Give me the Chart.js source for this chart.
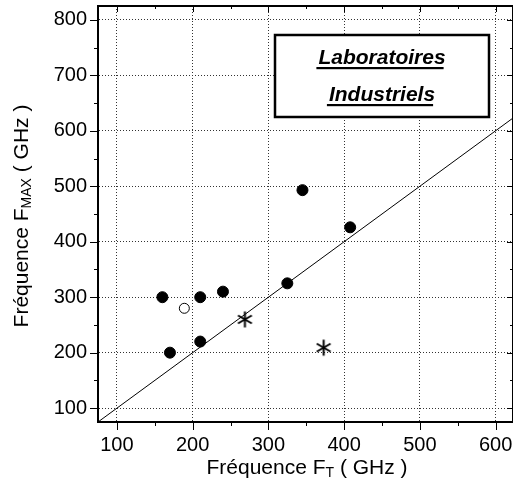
<!DOCTYPE html>
<html><head><meta charset="utf-8">
<script src="https://cdn.jsdelivr.net/npm/chart.js@4/dist/chart.umd.min.js"></script>
<style>html,body{margin:0;padding:0;background:#fff}canvas{display:block}</style>
</head><body>
<canvas id="c" width="513" height="483"></canvas>
<script>
// ---- data ----
const xTicks = [100, 200, 300, 400, 500, 600];
const yTicks = [100, 200, 300, 400, 500, 600, 700, 800];
const xMinor = [150, 250, 350, 450, 550];
const yMinor = [150, 250, 350, 450, 550, 650, 750];
const labFT   = [160, 170, 210, 210, 240, 325, 345, 408];
const labFMAX = [300, 200, 300, 220, 310, 325, 493, 426];
const openFT   = [189];
const openFMAX = [280];
const starFT   = [269, 373];
const starFMAX = [260, 209];
const refFT   = [75, 623];
const refFMAX = [75, 623];
const boxLines = ['Laboratoires', 'Industriels'];
const xTitle = ['Fréquence F', 'T', ' ( GHz )'];
const yTitle = ['Fréquence F', 'MAX', ' ( GHz )'];

const pts = (xs, ys) => xs.map((x, i) => ({x: x, y: ys[i]}));
const FONT = 'Arial, "Liberation Sans", sans-serif';

// asterisk marker
const star = document.createElement('canvas');
star.width = 19; star.height = 19;
(function(){
  const g = star.getContext('2d');
  g.strokeStyle = '#000'; g.lineWidth = 2;
  const c = 9.5, r = 8;
  [90, 30, -30].forEach(a => {
    const t = a * Math.PI / 180;
    g.beginPath();
    g.moveTo(c - r * Math.cos(t), c - r * Math.sin(t));
    g.lineTo(c + r * Math.cos(t), c + r * Math.sin(t));
    g.stroke();
  });
})();

function drawParts(ctx, parts, cx, cy, rot) {
  const big = '21px ' + FONT, small = '14px ' + FONT;
  ctx.save();
  let w = 0;
  const ws = parts.map((p, i) => { ctx.font = (i === 1 ? small : big); const m = ctx.measureText(p).width; w += m; return m; });
  ctx.translate(cx, cy);
  if (rot) ctx.rotate(-Math.PI / 2);
  ctx.fillStyle = '#000';
  ctx.textBaseline = 'alphabetic';
  ctx.textAlign = 'left';
  let x = -w / 2;
  parts.forEach((p, i) => {
    ctx.font = (i === 1 ? small : big);
    ctx.fillText(p, x, i === 1 ? 3 : 0);
    x += ws[i];
  });
  ctx.restore();
}

const noPad = s => { s.paddingTop = 0; s.paddingBottom = 0; s.paddingLeft = 0; s.paddingRight = 0; };

const decor = {
  id: 'decor',
  afterDraw(chart) {
    const ctx = chart.ctx, a = chart.chartArea;
    const xs = chart.scales.x, ys = chart.scales.y;
    ctx.save();
    ctx.strokeStyle = '#000';
    // frame top & right
    ctx.lineWidth = 2;
    ctx.beginPath(); ctx.moveTo(a.left - 1, a.top); ctx.lineTo(a.right, a.top); ctx.stroke();
    ctx.beginPath(); ctx.moveTo(a.right, a.top); ctx.lineTo(a.right, a.bottom); ctx.stroke();
    ctx.lineWidth = 1;
    const tick = (x1, y1, x2, y2) => { ctx.beginPath(); ctx.moveTo(x1, y1); ctx.lineTo(x2, y2); ctx.stroke(); };
    xTicks.forEach(v => { const p = Math.round(xs.getPixelForValue(v)) + 0.5;
      tick(p, a.bottom, p, a.bottom + 8); tick(p, a.top, p, a.top + 6); });
    xMinor.forEach(v => { const p = Math.round(xs.getPixelForValue(v)) + 0.5;
      tick(p, a.bottom, p, a.bottom + 4); tick(p, a.top, p, a.top + 3); });
    yTicks.forEach(v => { const p = Math.round(ys.getPixelForValue(v)) + 0.5;
      tick(a.left, p, a.left - 8, p); tick(a.right, p, a.right - 6, p); });
    yMinor.forEach(v => { const p = Math.round(ys.getPixelForValue(v)) + 0.5;
      tick(a.left, p, a.left - 4, p); tick(a.right, p, a.right - 3, p); });
    // text box
    ctx.fillStyle = '#fff';
    ctx.fillRect(275, 35, 214, 82);
    ctx.lineWidth = 2.5;
    ctx.strokeRect(275, 35, 214, 82);
    ctx.fillStyle = '#000';
    ctx.font = 'italic bold 21px ' + FONT;
    ctx.textAlign = 'center';
    ctx.textBaseline = 'alphabetic';
    const cx = 382;
    [64, 101].forEach((by, i) => {
      ctx.fillText(boxLines[i], cx, by);
      const w = ctx.measureText(boxLines[i]).width;
      ctx.fillRect(cx - w / 2 - 2, by + 3, w, 2.2);
    });
    ctx.restore();
    // axis titles
    drawParts(ctx, xTitle, 307, 474, false);
    drawParts(ctx, yTitle, 28, 216, true);
  }
};

new Chart(document.getElementById('c'), {
  type: 'scatter',
  data: {
    datasets: [
      { data: pts(labFT, labFMAX), pointRadius: 5.5, pointHoverRadius: 5.5, backgroundColor: '#000', borderColor: '#000', borderWidth: 1 },
      { data: pts(openFT, openFMAX), pointRadius: 5, backgroundColor: '#fff', borderColor: '#000', borderWidth: 1 },
      { data: pts(starFT, starFMAX), pointStyle: star, pointRadius: 9 },
      { type: 'line', data: pts(refFT, refFMAX), showLine: true, pointRadius: 0, borderColor: '#000', borderWidth: 1, fill: false, tension: 0 }
    ]
  },
  options: {
    responsive: false,
    animation: false,
    devicePixelRatio: 1,
    layout: { autoPadding: false, padding: { top: 6, right: 0, left: 0, bottom: 0 } },
    plugins: { legend: { display: false }, tooltip: { enabled: false } },
    scales: {
      x: {
        type: 'linear', position: 'bottom', min: 75, max: 623,
        afterBuildTicks: s => { s.ticks = xTicks.map(v => ({ value: v })); },
        afterFit: s => { s.height = 61; noPad(s); },
        grid: { color: '#333', lineWidth: 1, drawTicks: false },
        border: { display: true, color: '#000', width: 2, dash: [1, 2] },
        ticks: { font: { family: FONT, size: 20 }, color: '#000', padding: 11, maxRotation: 0, autoSkip: false }
      },
      y: {
        type: 'linear', position: 'left', min: 75, max: 825,
        afterBuildTicks: s => { s.ticks = yTicks.map(v => ({ value: v })); },
        afterFit: s => { s.width = 98; noPad(s); },
        grid: { color: '#333', lineWidth: 1, drawTicks: false },
        border: { display: true, color: '#000', width: 2, dash: [1, 2] },
        ticks: { font: { family: FONT, size: 20 }, color: '#000', padding: 11, autoSkip: false }
      }
    }
  },
  plugins: [decor]
});
</script>
</body></html>
